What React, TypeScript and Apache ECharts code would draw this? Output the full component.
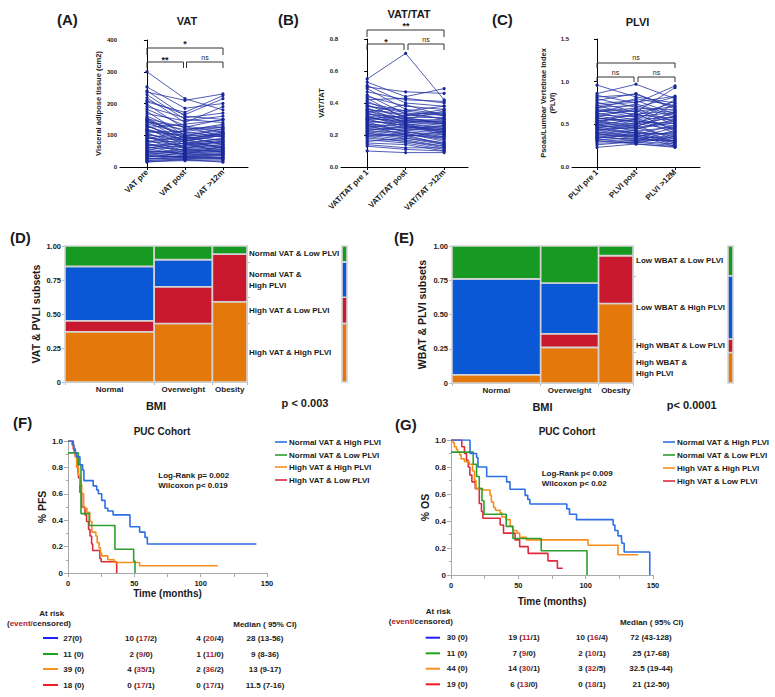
import React, { useEffect, useRef } from "react";
import * as echarts from "echarts";

const FONT = '"Liberation Sans", Arial, Helvetica, sans-serif';
const INK = "#1a1a1a";

// ---------- Panel A: VAT (cm2), paired per patient ----------
const vatCats = ["VAT pre", "VAT post", "VAT >12m"];
const vatPre = [300, 252, 240, 236, 228, 218, 205, 198, 190, 182,
  175, 168, 160, 155, 152, 148, 145, 140, 136, 132,
  128, 124, 120, 116, 112, 108, 104, 100, 96, 92,
  88, 85, 82, 78, 75, 72, 68, 65, 62, 58,
  55, 52, 48, 45, 42, 40, 37, 34, 31, 28,
  25, 22, 20, 17, 15, 150, 142, 130, 118, 110,
  98, 90, 80, 70, 60, 50, 44, 35, 26, 210];
const vatPost = [215, 185, 160, 210, 150, 140, 172, 120, 155, 130,
  98, 145, 110, 88, 125, 95, 80, 118, 105, 76,
  92, 135, 70, 85, 100, 62, 78, 90, 58, 72,
  115, 50, 66, 82, 45, 60, 74, 40, 55, 38,
  68, 42, 50, 35, 30, 48, 28, 33, 44, 25,
  30, 22, 26, 20, 24, 100, 128, 82, 95, 112,
  60, 86, 95, 52, 75, 40, 56, 32, 35, 165];
const vat12m = [180, 200, 150, 230, 140, 190, 225, 125, 170, 110,
  120, 160, 95, 105, 150, 85, 100, 130, 120, 90,
  75, 148, 80, 110, 95, 70, 60, 105, 65, 85,
  135, 55, 75, 100, 50, 70, 90, 45, 60, 42,
  80, 38, 55, 40, 35, 52, 30, 36, 48, 26,
  28, 22, 30, 18, 15, 115, 95, 105, 70, 125,
  82, 58, 110, 62, 45, 65, 48, 40, 25, 215];

// ---------- Panel B: VAT/TAT ----------
const vtCats = ["VAT/TAT pre 1", "VAT/TAT post", "VAT/TAT >12m"];
const vtPre = [0.55, 0.53, 0.51, 0.50, 0.49, 0.47, 0.45, 0.44, 0.43, 0.42,
  0.41, 0.40, 0.39, 0.38, 0.37, 0.36, 0.35, 0.35, 0.34, 0.33,
  0.32, 0.32, 0.31, 0.30, 0.30, 0.29, 0.28, 0.28, 0.27, 0.26,
  0.26, 0.25, 0.24, 0.24, 0.23, 0.22, 0.22, 0.21, 0.20, 0.20,
  0.19, 0.18, 0.17, 0.16, 0.15, 0.14, 0.13, 0.10, 0.33, 0.29,
  0.27, 0.25, 0.31, 0.36, 0.23, 0.21, 0.38, 0.19, 0.30, 0.34];
const vtPost = [0.71, 0.44, 0.40, 0.47, 0.36, 0.42, 0.33, 0.38, 0.30, 0.43,
  0.31, 0.35, 0.29, 0.34, 0.27, 0.33, 0.28, 0.30, 0.26, 0.31,
  0.25, 0.29, 0.27, 0.32, 0.24, 0.26, 0.28, 0.22, 0.25, 0.24,
  0.20, 0.27, 0.23, 0.21, 0.25, 0.19, 0.22, 0.18, 0.20, 0.17,
  0.21, 0.16, 0.15, 0.18, 0.14, 0.12, 0.11, 0.09, 0.30, 0.26,
  0.22, 0.23, 0.28, 0.32, 0.20, 0.19, 0.35, 0.16, 0.29, 0.39];
const vt12m = [0.42, 0.49, 0.38, 0.46, 0.33, 0.41, 0.30, 0.36, 0.35, 0.40,
  0.27, 0.32, 0.28, 0.30, 0.24, 0.34, 0.26, 0.29, 0.22, 0.31,
  0.25, 0.28, 0.21, 0.33, 0.23, 0.20, 0.27, 0.19, 0.24, 0.22,
  0.18, 0.25, 0.21, 0.17, 0.23, 0.15, 0.20, 0.14, 0.19, 0.13,
  0.16, 0.12, 0.11, 0.15, 0.10, 0.12, 0.10, 0.09, 0.28, 0.23,
  0.18, 0.26, 0.30, 0.36, 0.14, 0.22, 0.38, 0.13, 0.27, 0.32];

// ---------- Panel C: PLVI ----------
const plviCats = ["PLVI pre 1", "PLVI post", "PLVI >12M"];
const plviPre = [0.96, 0.86, 0.84, 0.82, 0.80, 0.78, 0.76, 0.74, 0.72, 0.70,
  0.69, 0.67, 0.66, 0.64, 0.63, 0.62, 0.60, 0.59, 0.58, 0.57,
  0.56, 0.55, 0.54, 0.53, 0.52, 0.51, 0.50, 0.49, 0.48, 0.47,
  0.46, 0.45, 0.44, 0.43, 0.42, 0.41, 0.40, 0.39, 0.38, 0.37,
  0.36, 0.35, 0.34, 0.33, 0.32, 0.31, 0.30, 0.28, 0.26, 0.23,
  0.61, 0.57, 0.49, 0.45, 0.68, 0.72, 0.39, 0.34, 0.53, 0.65];
const plviPost = [0.82, 0.97, 0.75, 0.85, 0.70, 0.86, 0.64, 0.78, 0.60, 0.72,
  0.80, 0.58, 0.62, 0.74, 0.55, 0.66, 0.52, 0.68, 0.50, 0.54,
  0.61, 0.47, 0.57, 0.45, 0.63, 0.48, 0.42, 0.56, 0.44, 0.40,
  0.51, 0.38, 0.46, 0.36, 0.49, 0.35, 0.43, 0.33, 0.41, 0.30,
  0.39, 0.32, 0.37, 0.28, 0.34, 0.27, 0.31, 0.29, 0.30, 0.27,
  0.59, 0.53, 0.46, 0.40, 0.65, 0.76, 0.35, 0.38, 0.50, 0.69];
const plvi12m = [0.75, 0.80, 0.95, 0.70, 0.82, 0.68, 0.93, 0.62, 0.77, 0.58,
  0.72, 0.55, 0.66, 0.60, 0.79, 0.50, 0.63, 0.53, 0.74, 0.48,
  0.57, 0.65, 0.45, 0.52, 0.42, 0.60, 0.47, 0.40, 0.56, 0.38,
  0.44, 0.49, 0.35, 0.41, 0.32, 0.46, 0.30, 0.37, 0.28, 0.43,
  0.26, 0.33, 0.24, 0.36, 0.29, 0.23, 0.31, 0.25, 0.27, 0.24,
  0.64, 0.51, 0.54, 0.39, 0.71, 0.83, 0.34, 0.30, 0.59, 0.67];

// ---------- Panels D/E: mosaic (bottom -> top: HH, HL, NH, NL) ----------
const bmiCats = ["Normal", "Overweight", "Obesity"];
const dColShare = [0.49, 0.32, 0.19];
const dSubsetShares = [[0.37, 0.08, 0.40, 0.15], [0.43, 0.27, 0.20, 0.10], [0.59, 0.35, 0.0, 0.06]];
const dSubsets = ["High VAT & High PLVI", "High VAT & Low PLVI", "Normal VAT &\nHigh PLVI", "Normal VAT & Low PLVI"];
const eColShare = [0.49, 0.32, 0.19];
const eSubsetShares = [[0.06, 0.0, 0.70, 0.24], [0.26, 0.10, 0.37, 0.27], [0.58, 0.35, 0.0, 0.07]];
const eSubsets = ["High WBAT &\nHigh PLVI", "High WBAT & Low PLVI", "Low WBAT & High PLVI", "Low WBAT & Low PLVI"];
const mosaicColors = ["#e5780a", "#c8192e", "#0a58d6", "#179a22"];

// ---------- Panels F/G: Kaplan–Meier [months, survival] ----------
const kmNames = ["Normal VAT & High PLVI", "Normal VAT & Low PLVI", "High VAT & High PLVI", "High VAT & Low PLVI"];
const kmColors = ["#2d6fe6", "#2c9f2c", "#f68e1e", "#e02a3c"];
const fBlue = [[0, 1], [3.5, 0.97], [4.5, 0.93], [5.5, 0.91], [6.5, 0.88], [9, 0.82], [11, 0.78], [12, 0.70], [19, 0.66], [21.6, 0.63], [22.9, 0.60], [25.4, 0.55], [27.9, 0.49], [30, 0.47], [34, 0.44], [46.7, 0.35], [54, 0.31], [58, 0.27], [59.8, 0.22], [142, 0.22]];
const fGreen = [[0, 0.91], [7.8, 0.82], [9.8, 0.45], [16, 0.36], [35.4, 0.18], [49.5, 0.09], [50.5, 0]];
const fOrange = [[0, 1], [3, 0.97], [4.5, 0.92], [5.3, 0.88], [6.5, 0.80], [8, 0.74], [9, 0.67], [10.3, 0.60], [11.8, 0.49], [14.3, 0.46], [16.4, 0.39], [18, 0.31], [21, 0.28], [22, 0.23], [23.5, 0.19], [24.5, 0.15], [25.4, 0.13], [30, 0.10], [35, 0.08], [54, 0.055], [113, 0.055]];
const fRed = [[0, 1], [4, 0.94], [5.5, 0.89], [6.8, 0.83], [7.5, 0.78], [8, 0.72], [9, 0.61], [10.3, 0.50], [12.8, 0.44], [14, 0.39], [15.5, 0.33], [16.6, 0.28], [17.8, 0.22], [18.6, 0.17], [24, 0.11], [25, 0.085], [36.7, 0]];
const gBlue = [[0, 1], [14.1, 0.90], [19, 0.87], [20, 0.80], [26.5, 0.73], [41.3, 0.69], [43.8, 0.635], [55, 0.59], [57, 0.56], [58.6, 0.526], [86, 0.49], [88, 0.45], [93.2, 0.41], [120.4, 0.37], [121.7, 0.33], [124, 0.29], [126.6, 0.26], [127, 0.235], [128.6, 0.17], [147.6, 0]];
const gGreen = [[0, 0.91], [16.5, 0.82], [19, 0.73], [21, 0.64], [23, 0.55], [24.5, 0.45], [41, 0.36], [46, 0.27], [67, 0.18], [101, 0]];
const gOrange = [[0, 1], [1.5, 0.98], [2.5, 0.95], [4, 0.93], [5, 0.91], [6.5, 0.89], [7.5, 0.86], [10, 0.84], [13.5, 0.82], [16, 0.77], [17.5, 0.70], [18.6, 0.64], [23.5, 0.63], [29, 0.59], [30, 0.54], [31.6, 0.50], [33, 0.48], [36.5, 0.46], [37.8, 0.43], [41, 0.41], [44, 0.36], [46, 0.33], [49, 0.31], [51, 0.28], [56, 0.26], [101.8, 0.22], [124, 0.15], [139, 0.15]];
const gRed = [[0, 1], [8, 0.95], [10, 0.90], [11.5, 0.85], [12.8, 0.80], [14, 0.74], [15.5, 0.69], [18, 0.64], [21, 0.53], [22.6, 0.47], [23.7, 0.42], [36.5, 0.37], [39, 0.31], [47.6, 0.26], [51, 0.21], [57.3, 0.16], [72, 0.105], [79, 0.05], [83, 0.05]];

// ---------- at-risk tables ----------
const tableLineColors = ["#1f1fff", "#1ea51e", "#f7941d", "#ee1c25"];
const fAtRisk0 = ["27(0)", "11 (0)", "39 (0)", "18 (0)"];
const fAtRisk50 = [[10, 17, 2], [2, 9, 0], [4, 35, 1], [0, 17, 1]];
const fAtRisk100 = [[4, 20, 4], [1, 11, 0], [2, 36, 2], [0, 17, 1]];
const fMedian = ["28 (13-56)", "9 (8-36)", "13 (9-17)", "11.5 (7-16)"];
const gAtRisk0 = ["30 (0)", "11 (0)", "44 (0)", "19 (0)"];
const gAtRisk50 = [[19, 11, 1], [7, 9, 0], [14, 30, 1], [6, 13, 0]];
const gAtRisk100 = [[10, 16, 4], [2, 10, 1], [3, 32, 5], [0, 18, 1]];
const gMedian = ["72 (43-128)", "25 (17-68)", "32.5 (19-44)", "21 (12-50)"];

// ---------- helpers ----------
const lbl = (size: number, extra: any = {}) => ({ fontFamily: FONT, fontSize: size, fontWeight: "bold", color: INK, ...extra });

function txt(text: string, x: number, y: number, size: number, opts: any = {}) {
  const align = opts.align || "center";
  return {
    type: "text", x, y, silent: true, rotation: opts.rotation || 0, z: 10,
    style: {
      text, fontFamily: FONT, fontSize: size, fontWeight: opts.weight || "bold",
      fill: opts.fill || INK, align, textAlign: align, verticalAlign: "middle", textVerticalAlign: "middle",
      lineHeight: opts.lineHeight, rich: opts.rich,
    },
  };
}

function pairedSeries(pre: number[], post: number[], m12: number[], axis: number) {
  const n = Math.min(pre.length, post.length, m12.length);
  const out: any[] = [];
  for (let i = 0; i < n; i++) {
    out.push({
      type: "line", xAxisIndex: axis, yAxisIndex: axis, silent: true,
      data: [[0, pre[i]], [1, post[i]], [2, m12[i]]],
      symbol: "circle", symbolSize: 3.2, showSymbol: true,
      lineStyle: { width: 0.8, color: "#2434a6" }, itemStyle: { color: "#18289a" },
    });
  }
  return out;
}

function pairedX(grid: number, cats: string[], min: number, max: number) {
  return {
    type: "value", gridIndex: grid, min, max,
    axisLine: { show: true, lineStyle: { color: "#000", width: 1 } },
    axisTick: { show: true, customValues: [0, 1, 2], length: 3, lineStyle: { color: "#000" } },
    axisLabel: { show: true, customValues: [0, 1, 2], rotate: 45, margin: 4, formatter: (v: number) => cats[Math.round(v)] ?? "", ...lbl(8) },
    splitLine: { show: false },
  };
}
function pairedY(grid: number, max: number, interval: number, dec: number, name: string, gap: number) {
  return {
    type: "value", gridIndex: grid, min: 0, max, interval, name, nameLocation: "middle", nameGap: gap,
    nameTextStyle: lbl(7.5, { lineHeight: 9 }),
    axisLine: { show: true, lineStyle: { color: "#000" } },
    axisTick: { show: true, length: 3, lineStyle: { color: "#000" } },
    axisLabel: { margin: 3, formatter: (v: number) => (dec ? v.toFixed(dec) : String(v)), ...lbl(6) },
    splitLine: { show: false },
  };
}

function mosaicCells(widths: number[], shares: number[][]) {
  const cells: number[][] = [];
  let x0 = 0;
  widths.forEach((w, c) => {
    let y0 = 0;
    shares[c].forEach((s, k) => {
      if (s > 0) cells.push([x0, x0 + w, y0, y0 + s, k]);
      y0 += s;
    });
    x0 += w;
  });
  return cells;
}
function marginalShares(widths: number[], shares: number[][]) {
  const tot = [0, 0, 0, 0];
  widths.forEach((w, c) => shares[c].forEach((s, k) => (tot[k] += w * s)));
  const sum = tot.reduce((a, b) => a + b, 0);
  return tot.map((v) => v / sum);
}
function cumulative(arr: number[]) {
  const out: number[] = [];
  let acc = 0;
  arr.forEach((v) => { acc += v; out.push(acc); });
  return out;
}
const rectRender = (params: any, api: any) => {
  const a = api.coord([api.value(0), api.value(3)]);
  const b = api.coord([api.value(1), api.value(2)]);
  return {
    type: "rect",
    shape: { x: a[0], y: a[1], width: b[0] - a[0], height: b[1] - a[1] },
    style: { fill: mosaicColors[api.value(4)], stroke: "#d4d4d4", lineWidth: 1.6 },
  };
};

function mosaicAxes(grid: number, widths: number[], marg: number[], yName: string, nameGap: number) {
  const bounds = [0, ...cumulative(widths)];
  const mids = widths.map((w, i) => bounds[i] + w / 2);
  const gray = "#bdbdbd";
  const x = {
    type: "value", gridIndex: grid, min: 0, max: 1, name: "BMI", nameLocation: "middle", nameGap: 18,
    nameTextStyle: lbl(11),
    axisLine: { show: true, lineStyle: { color: gray } },
    axisTick: { show: true, customValues: bounds, length: 3, lineStyle: { color: gray } },
    axisLabel: {
      customValues: mids, margin: 3, ...lbl(8),
      formatter: (v: number) => {
        let best = 0;
        mids.forEach((m, i) => { if (Math.abs(m - v) < Math.abs(mids[best] - v)) best = i; });
        return bmiCats[best];
      },
    },
    splitLine: { show: false },
  };
  const yL = {
    type: "value", gridIndex: grid, min: 0, max: 1, interval: 0.25, name: yName, nameLocation: "middle", nameGap,
    nameTextStyle: lbl(10.5),
    axisLine: { show: true, lineStyle: { color: gray } },
    axisTick: { show: true, length: 3, lineStyle: { color: gray } },
    axisLabel: { margin: 4, formatter: (v: number) => (v === 0 ? "0" : v.toFixed(2)), ...lbl(7.5) },
    splitLine: { show: false },
  };
  const yR = {
    type: "value", gridIndex: grid, position: "right", min: 0, max: 1,
    axisLine: { show: true, lineStyle: { color: gray } },
    axisTick: { show: true, customValues: cumulative(marg).slice(0, 3), length: 3, lineStyle: { color: gray } },
    axisLabel: { show: false }, splitLine: { show: false },
  };
  return { x, yL, yR };
}

function kmAxes(grid: number, yName: string, nameGapX: number, nameGapY: number) {
  const gray = "#a8a8a8";
  const x = {
    type: "value", gridIndex: grid, min: 0, max: 150, interval: 50, name: "Time (months)", nameLocation: "middle",
    nameGap: nameGapX, nameTextStyle: lbl(10),
    axisLine: { show: true, lineStyle: { color: gray } },
    axisTick: { show: true, length: 4, lineStyle: { color: gray } },
    minorTick: { show: true, splitNumber: 2, length: 4, lineStyle: { color: gray } },
    axisLabel: { margin: 6, ...lbl(7.5) },
    splitLine: { show: false }, minorSplitLine: { show: false },
  };
  const y = {
    type: "value", gridIndex: grid, min: 0, max: 1, interval: 0.2, name: yName, nameLocation: "middle",
    nameGap: nameGapY, nameTextStyle: lbl(10.5),
    axisLine: { show: true, lineStyle: { color: gray } },
    axisTick: { show: true, length: 4, lineStyle: { color: gray } },
    minorTick: { show: true, splitNumber: 2, length: 2, lineStyle: { color: gray } },
    axisLabel: { margin: 5, formatter: (v: number) => (v === 0 ? "0" : v.toFixed(1)), ...lbl(8) },
    splitLine: { show: false }, minorSplitLine: { show: false },
  };
  return { x, y };
}

function kmSeries(grid: number, curves: number[][][]) {
  return curves.map((data, i) => ({
    type: "line", name: kmNames[i], xAxisIndex: grid, yAxisIndex: grid, step: "end", data,
    symbol: "none", showSymbol: false, silent: true, z: 3 + (curves.length - i),
    lineStyle: { width: 1.6, color: kmColors[i] },
  }));
}

function bracket(x1: number, x2: number, y: number, leg: number) {
  return {
    type: "polyline", silent: true, z: 10,
    shape: { points: [[x1, y + leg], [x1, y], [x2, y], [x2, y + leg]] },
    style: { stroke: "#333", lineWidth: 1, fill: null },
  };
}

function mosaicLegend(x: number, top: number, height: number, marg: number[], labels: string[]) {
  const cum = [0, ...cumulative(marg)];
  return labels.map((t, k) => {
    const mid = (cum[k] + cum[k + 1]) / 2;
    return txt(t, x, top + height * (1 - mid), 8, { align: "left", lineHeight: 11 });
  });
}

function kmLegend(x: number, ys: number[]) {
  const els: any[] = [];
  kmNames.forEach((n, i) => {
    els.push({ type: "line", silent: true, z: 10, shape: { x1: x, y1: ys[i], x2: x + 12, y2: ys[i] }, style: { stroke: kmColors[i], lineWidth: 1.6 } });
    els.push(txt(n, x + 14, ys[i], 8, { align: "left" }));
  });
  return els;
}

const richBase = { fontFamily: FONT, fontSize: 8, fontWeight: "bold" };
const rich = {
  k: { ...richBase, fill: INK, color: INK },
  r: { ...richBase, fill: "#b2182b", color: "#b2182b" },
};
const riskText = (v: number[]) => `{k|${v[0]} (}{r|${v[1]}}{k|/${v[2]})}`;

function table(t: any, at0: string[], at50: number[][], at100: number[][], med: string[]) {
  const els: any[] = [];
  els.push(txt("At risk", t.atRiskX, t.atRiskY, 8));
  els.push(txt("{k|(}{r|event/}{k|censored)}", t.evX, t.evY, 8, { rich }));
  els.push(txt("Median ( 95% CI)", t.medX, t.medY, 8));
  t.rows.forEach((y: number, i: number) => {
    els.push({ type: "line", silent: true, z: 10, shape: { x1: t.lineX[0], y1: y, x2: t.lineX[1], y2: y }, style: { stroke: tableLineColors[i], lineWidth: 2 } });
    els.push(txt(at0[i], t.c1, y, 8, { align: "left" }));
    els.push(txt(riskText(at50[i]), t.c2, y, 8, { rich }));
    els.push(txt(riskText(at100[i]), t.c3, y, 8, { rich }));
    els.push(txt(med[i], t.c4, y, 8));
  });
  return els;
}

function buildOption() {
  const dMarg = marginalShares(dColShare, dSubsetShares);
  const eMarg = marginalShares(eColShare, eSubsetShares);
  const dAx = mosaicAxes(3, dColShare, dMarg, "VAT & PVLI subsets", 24);
  const eAx = mosaicAxes(4, eColShare, eMarg, "WBAT & PLVI subsets", 25);
  const fAx = kmAxes(7, "% PFS", 15, 21);
  const gAx = kmAxes(8, "% OS", 21, 21);
  const hiddenAx = (grid: number) => ({ type: "value", gridIndex: grid, min: 0, max: 1, show: false });

  const grid = [
    { left: 120, top: 40, width: 128, height: 127 },
    { left: 341, top: 39, width: 127, height: 128 },
    { left: 572, top: 39, width: 128, height: 128 },
    { left: 65, top: 246, width: 182, height: 136 },
    { left: 452, top: 246, width: 181, height: 137 },
    { left: 342, top: 246, width: 5, height: 136 },
    { left: 728, top: 246, width: 5, height: 137 },
    { left: 68, top: 441, width: 199, height: 132 },
    { left: 451, top: 440, width: 202, height: 135 },
  ].map((g) => ({ ...g, containLabel: false, outerBoundsMode: "none" }));

  const xAxis = [
    pairedX(0, vatCats, -0.71, 2.66),
    pairedX(1, vtCats, -0.68, 2.62),
    pairedX(2, plviCats, -0.64, 2.64),
    dAx.x, eAx.x, hiddenAx(5), hiddenAx(6), fAx.x, gAx.x,
  ];
  const yAxis = [
    pairedY(0, 400, 100, 0, "Visceral adipose tissue (cm2)", 15),
    pairedY(1, 0.8, 0.2, 1, "VAT/TAT", 14),
    pairedY(2, 1.5, 0.5, 1, "Psoas/Lumbar Vertebrae Index\n(PLVI)", 15),
    dAx.yL, eAx.yL, hiddenAx(5), hiddenAx(6), fAx.y, gAx.y, dAx.yR, eAx.yR,
  ];

  const margCells = (m: number[]) => {
    const c = [0, ...cumulative(m)];
    return m.map((_, k) => [0, 1, c[k], c[k + 1], k]);
  };
  const custom = (axis: number, data: number[][]) => ({
    type: "custom", xAxisIndex: axis, yAxisIndex: axis, renderItem: rectRender, data, silent: true,
    encode: { x: [0, 1], y: [2, 3] },
  });

  const series = [
    ...pairedSeries(vatPre, vatPost, vat12m, 0),
    ...pairedSeries(vtPre, vtPost, vt12m, 1),
    ...pairedSeries(plviPre, plviPost, plvi12m, 2),
    custom(3, mosaicCells(dColShare, dSubsetShares)),
    custom(4, mosaicCells(eColShare, eSubsetShares)),
    custom(5, margCells(dMarg)),
    custom(6, margCells(eMarg)),
    ...kmSeries(7, [fBlue, fGreen, fOrange, fRed]),
    ...kmSeries(8, [gBlue, gGreen, gOrange, gRed]),
  ];

  const graphic: any[] = [
    txt("(A)", 57, 19.5, 15, { align: "left" }),
    txt("VAT", 187, 21, 11),
    txt("(B)", 278, 19, 15, { align: "left" }),
    txt("VAT/TAT", 409, 14, 11),
    txt("(C)", 492, 19, 15, { align: "left" }),
    txt("PLVI", 637.5, 22, 11),
    txt("(D)", 10, 237.5, 15, { align: "left" }),
    txt("(E)", 394, 237.5, 15, { align: "left" }),
    txt("(F)", 13, 422.5, 15, { align: "left" }),
    txt("(G)", 395, 424, 15, { align: "left" }),
    txt("p < 0.003", 305, 403, 11),
    txt("p< 0.0001", 691.7, 404.5, 11),
    txt("PUC Cohort", 162, 431, 10),
    txt("PUC Cohort", 567, 431, 10),
    txt("Log-Rank p= 0.002", 158.3, 475.3, 8, { align: "left" }),
    txt("Wilcoxon p< 0.019", 158.3, 485.3, 8, { align: "left" }),
    txt("Log-Rank p< 0.009", 541.7, 473.7, 8, { align: "left" }),
    txt("Wilcoxon p< 0.02", 541.7, 483.7, 8, { align: "left" }),
    // significance brackets
    bracket(147, 223, 48, 7), txt("*", 185, 44, 9),
    bracket(147, 183.5, 62, 6), txt("**", 165, 59.5, 9),
    bracket(186.5, 223, 62, 6), txt("ns", 205, 57.5, 7, { weight: "normal" }),
    bracket(367, 444, 30, 7), txt("**", 406, 26, 9),
    bracket(367, 404, 44, 6), txt("*", 386, 41.5, 9),
    bracket(408, 444, 44, 6), txt("ns", 426, 39.5, 7, { weight: "normal" }),
    bracket(597, 675, 63, 5), txt("ns", 636, 57, 7, { weight: "normal" }),
    bracket(597, 634, 77, 5), txt("ns", 615.5, 72, 7, { weight: "normal" }),
    bracket(638, 675, 77, 5), txt("ns", 656.5, 72, 7, { weight: "normal" }),
    ...mosaicLegend(249, 246, 136, dMarg, dSubsets),
    ...mosaicLegend(636, 246, 137, eMarg, eSubsets),
    ...kmLegend(275, [442, 455, 467, 480]),
    ...kmLegend(663, [442, 455, 468, 481]),
    ...table({ atRiskX: 51.7, atRiskY: 613, evX: 39, evY: 623, medX: 265, medY: 624, rows: [638, 654, 669, 685], lineX: [43, 58], c1: 63.3, c2: 141, c3: 210, c4: 265 }, fAtRisk0, fAtRisk50, fAtRisk100, fMedian),
    ...table({ atRiskX: 438.3, atRiskY: 611, evX: 420.8, evY: 621, medX: 651.7, medY: 622.3, rows: [637.7, 653.3, 668.7, 684.3], lineX: [425.7, 440], c1: 446.7, c2: 524, c3: 592, c4: 651 }, gAtRisk0, gAtRisk50, gAtRisk100, gMedian),
  ];

  return {
    animation: false,
    backgroundColor: "#fff",
    textStyle: { fontFamily: FONT },
    grid, xAxis, yAxis, series, graphic,
  };
}

export default function App() {
  const ref = useRef<HTMLDivElement>(null);
  useEffect(() => {
    const chart = echarts.init(ref.current as HTMLDivElement, null, { renderer: "svg" });
    chart.setOption(buildOption() as any);
    return () => chart.dispose();
  }, []);
  return <div ref={ref} style={{ position: "absolute", left: 0, top: 0, width: 775, height: 697, background: "#fff" }} />;
}
